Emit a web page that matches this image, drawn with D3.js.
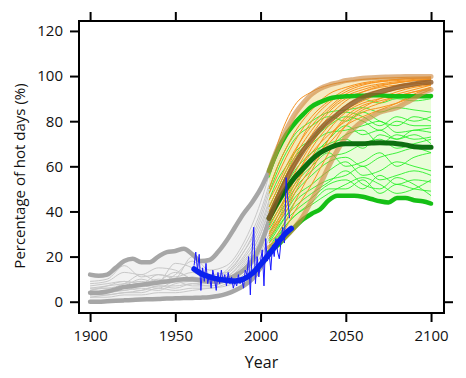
<!DOCTYPE html>
<html><head><meta charset="utf-8">
<script src="https://cdn.jsdelivr.net/npm/d3@7"></script>
<style>body{margin:0;background:#fff}svg{display:block}text{font-family:"Open Sans",sans-serif;fill:#111}</style>
</head><body><svg id="c" width="466" height="378"></svg>
<script>
// ---- data ----
const xTicks = [1900, 1950, 2000, 2050, 2100];
const yTicks = [0, 20, 40, 60, 80, 100, 120];
const xLabel = "Year";
const yLabel = "Percentage of hot days (%)";

// historical model runs (grey)
const histYears = [1900,1910,1920,1930,1940,1950,1960,1970,1980,1990,2000,2005];
const histRuns = [
  [8,9,13,12,15,14,10,9,12,20,34,45],
  [6,6,8,12,9,17,15,10,14,24,40,52],
  [5,7,9,8,12,11,13,9,11,18,30,42],
  [3,4,5,6,5,8,9,8,10,16,28,38],
  [2,3,4,5,7,6,8,7,9,14,26,35],
  [4,5,7,10,8,12,18,12,13,22,38,50],
  [7,8,9,8,10,9,11,9,11,19,32,44],
  [3,3,4,4,6,5,6,6,8,12,22,30],
  [5,6,6,7,9,13,10,8,10,17,30,40],
  [9,10,16,11,12,10,9,9,13,22,36,48],
  [2,2,3,3,4,4,5,6,7,11,20,28],
  [6,7,8,9,8,10,20,14,16,26,44,56],
  [4,4,6,5,7,7,8,8,9,15,27,36],
  [3,5,5,7,6,9,7,7,9,13,24,33]
];
const histBoundYears = [1900,1905,1910,1915,1920,1925,1930,1935,1940,1945,1950,1955,1960,1965,1970,1975,1980,1985,1990,1995,2000,2005];
const histUpper  = [12,11.5,12,15,18,19,17.5,17.5,20,22,22.5,23.5,21,18,18.5,22,27,33,39,44,50,58];
const histMedian = [4,4,4.5,5.5,6.5,7,7.5,8,8.5,9,9.5,10,10,9.5,9,9,10,11.5,14,18,25,36];
const histLower  = [0,0,0.2,0.4,0.6,0.8,1,1.1,1.2,1.4,1.5,1.6,1.7,1.8,2,2.5,3.5,5,7,10,15,22];

// future runs
const futYears = [2005,2010,2015,2020,2030,2040,2050,2060,2070,2080,2090,2100];
const orangeRuns = [
  [56,70,80,87,93,96,97.5,98.5,99,99.3,99.5,99.6],
  [50,60,68,75,85,92,95,97,98,98.5,99,99.3],
  [45,52,60,67,78,86,92,95,96.5,97.5,98,98.5],
  [40,48,55,62,74,84,90,93,95,96,97,98],
  [35,42,50,57,70,80,87,91,94,95.5,96.5,97],
  [30,38,46,54,68,78,85,89,92,94,95.5,96.5],
  [28,34,42,50,64,76,84,88,90,92,94,96],
  [26,30,36,44,58,72,82,87,89,91,93,95],
  [33,40,47,55,66,74,80,85,88,91,93,94],
  [38,47,56,64,76,85,91,94,96,97,98,98.5],
  [25,28,33,40,52,66,78,84,86,88,91,94],
  [42,50,58,66,80,88,93,96,97.5,98.5,99,99.5],
  [31,36,44,52,62,70,78,82,85,88,92,95],
  [36,44,52,60,72,82,89,93,95.5,97,98,98.5],
  [29,35,40,48,60,72,81,86,90,93,95,96],
  [48,56,64,71,82,89,94,96.5,97.5,98,98.5,99]
];
const greenRuns = [
  [55,66,74,80,86,89,91,90,88,90,89,90],
  [50,60,68,74,80,84,85,86,84,86,85,84],
  [45,54,60,66,72,78,82,80,76,80,78,78],
  [40,48,56,62,70,75,76,78,80,75,76,77],
  [38,46,52,58,66,70,72,68,74,72,76,75],
  [35,42,48,54,62,68,74,76,70,74,72,73],
  [32,38,44,50,58,64,66,70,72,68,70,72],
  [30,36,42,48,56,62,64,60,64,66,68,66],
  [28,34,40,46,52,58,62,56,58,62,60,58],
  [26,32,38,44,50,54,56,60,54,56,58,56],
  [24,30,36,40,46,52,54,50,56,52,54,53],
  [22,28,34,38,44,50,50,54,48,52,50,49],
  [34,40,46,52,60,66,60,62,66,60,64,66],
  [27,33,38,42,48,53,58,52,50,55,52,47],
  [42,50,58,64,72,80,84,82,78,82,80,82],
  [36,44,50,56,64,72,78,74,76,72,74,70],
  [23,29,34,38,43,48,52,55,52,48,50,54],
  [48,58,66,72,78,82,80,84,80,78,82,80]
];
const futBoundYears = [2005,2010,2015,2020,2025,2030,2035,2040,2045,2050,2055,2060,2065,2070,2075,2080,2085,2090,2095,2100];
const orangeUpper  = [58,68,76,83,88,92,94.5,96,97,98,98.5,99,99.3,99.5,99.6,99.7,99.8,99.8,99.8,99.8];
const orangeMedian = [37,46,54,61,67,72,76.5,80,83,86,88.5,90.5,92,93,94,95,95.8,96.5,97,97.3];
const orangeLower  = [24,26,29,33,38,45,52,60,67,73,77,80,82,84,85,86,88,90,92.5,94];
const greenUpper   = [58,67,74,79,83,86.5,88.5,90,90.7,91,91.2,91.3,91.5,91.5,91.2,91,91,91,91,91.2];
const greenMedian  = [37,44,50,55,59,63,66,68,69.5,70,70,70,70.3,70.5,70.3,70,69.5,68.7,68.5,68.5];
const greenLower   = [22,25,29,33,36.5,39,41,45,47,47,47,46.5,45.5,44.5,44,46,46,45,44.5,43.5];

// observations (blue)
const obsYears = d3.range(1961, 2018);
const obsValues = [16,22,14,21,5,15,9,17,8,12,6,14,10,5,13,8,14,9,12,7,13,8,11,6,9,7,12,8,10,6,14,12,20,3,22,33,8,20,11,18,23,7,28,18,22,14,25,20,28,22,19,27,33,26,55,45,37];
const obsSmoothYears = [1961,1965,1970,1975,1980,1985,1990,1995,2000,2005,2010,2015,2018];
const obsSmooth = [14.5,12.5,11,10,9.5,9.2,10,12.5,16.5,21,26,30.5,32.5];

// ---- chart ----
const L = 79, R = 444, T = 21, B = 313;
const svg = d3.select("#c");
const x = d3.scaleLinear().domain([1893.5, 2107.6]).range([L, R]);
const y = d3.scaleLinear().domain([-5, 124.4]).range([B, T]);

svg.append("clipPath").attr("id","clip").append("rect")
  .attr("x", L).attr("y", T).attr("width", R-L).attr("height", B-T);
const g = svg.append("g").attr("clip-path","url(#clip)");

const line = (xs) => d3.line().x((d,i)=>x(xs[i])).y(d=>y(d)).curve(d3.curveMonotoneX);
const band = (xs, lo, hi) => d3.area().x((d,i)=>x(xs[i])).y0((d,i)=>y(lo[i])).y1((d,i)=>y(hi[i])).curve(d3.curveMonotoneX)(xs);

// fills
g.append("path").attr("d", band(histBoundYears, histLower, histUpper)).attr("fill","#f2f2f2");
g.append("path").attr("d", band(futBoundYears, greenLower, greenUpper)).attr("fill","#e9fdd9");
g.append("path").attr("d", band(futBoundYears, orangeLower, orangeUpper)).attr("fill","#f6e3ad").attr("fill-opacity",0.75);

// grey runs
histRuns.forEach(r => g.append("path").attr("d", line(histYears)(r)).attr("fill","none").attr("stroke","#c8c8c8").attr("stroke-width",1));
[histUpper, histMedian, histLower].forEach(r => g.append("path").attr("d", line(histBoundYears)(r))
  .attr("fill","none").attr("stroke","#a6a6a6").attr("stroke-width",4.5).attr("stroke-linecap","round"));

// green & orange runs
greenRuns.forEach(r => g.append("path").attr("d", line(futYears)(r)).attr("fill","none").attr("stroke","#2af02a").attr("stroke-width",0.9));
orangeRuns.forEach(r => g.append("path").attr("d", line(futYears)(r)).attr("fill","none").attr("stroke","#f7921e").attr("stroke-width",1));

// bounds
[greenUpper, greenLower].forEach(r => g.append("path").attr("d", line(futBoundYears)(r))
  .attr("fill","none").attr("stroke","#15c015").attr("stroke-width",4.5).attr("stroke-linecap","round"));
[orangeUpper, orangeLower].forEach(r => g.append("path").attr("d", line(futBoundYears)(r))
  .attr("fill","none").attr("stroke","#cf8c45").attr("stroke-opacity",0.65).attr("stroke-width",5).attr("stroke-linecap","round"));
g.append("path").attr("d", line(futBoundYears)(greenMedian)).attr("fill","none").attr("stroke","#0d6f10").attr("stroke-width",5).attr("stroke-linecap","round");
g.append("path").attr("d", line(futBoundYears)(orangeMedian)).attr("fill","none").attr("stroke","#8f5a28").attr("stroke-opacity",0.8).attr("stroke-width",5).attr("stroke-linecap","round");

// observations
g.append("path").attr("d", d3.line().x((d,i)=>x(obsYears[i])).y(d=>y(d))(obsValues)).attr("fill","none").attr("stroke","#1a1aff").attr("stroke-width",1);
g.append("path").attr("d", line(obsSmoothYears)(obsSmooth)).attr("fill","none").attr("stroke","#0a22ee").attr("stroke-width",5.5).attr("stroke-linecap","round");

// frame
svg.append("rect").attr("x",L).attr("y",T).attr("width",R-L).attr("height",B-T).attr("fill","none").attr("stroke","#000").attr("stroke-width",2);

function styleAxis(sel, hideText){
  sel.select(".domain").remove();
  sel.selectAll(".tick line").attr("stroke","#000").attr("stroke-width",2);
  sel.selectAll("text").style("font-size","15px").style("font-family","'Open Sans',sans-serif").attr("fill","#111");
  if (hideText) sel.selectAll("text").remove();
}
svg.append("g").attr("transform",`translate(${L},0)`).call(d3.axisLeft(y).tickValues(yTicks).tickSize(9).tickPadding(7)).call(s=>styleAxis(s,false));
svg.append("g").attr("transform",`translate(${R},0)`).call(d3.axisRight(y).tickValues(yTicks).tickSize(9)).call(s=>styleAxis(s,true));
svg.append("g").attr("transform",`translate(0,${B})`).call(d3.axisBottom(x).tickValues(xTicks).tickFormat(d3.format("d")).tickSize(9).tickPadding(8)).call(s=>styleAxis(s,false));
svg.append("g").attr("transform",`translate(0,${T})`).call(d3.axisTop(x).tickValues(xTicks).tickSize(9)).call(s=>styleAxis(s,true));

svg.append("text").attr("x",(L+R)/2).attr("y",368).attr("text-anchor","middle").style("font-size","16px").text(xLabel);
svg.append("text").attr("transform",`translate(25,176) rotate(-90)`).attr("text-anchor","middle").style("font-size","15px").text(yLabel);
</script></body></html>
